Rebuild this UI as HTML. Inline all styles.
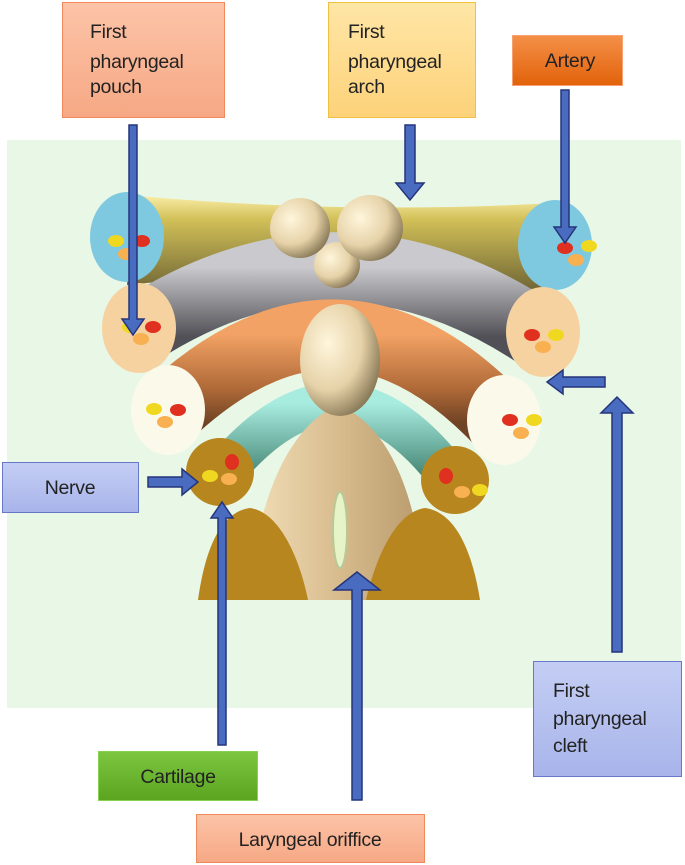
<!DOCTYPE html>
<html><head><meta charset="utf-8"><style>
html,body{margin:0;padding:0;background:#fff;}
svg{display:block;}
text{font-family:"Liberation Sans",Arial,sans-serif;font-size:19.5px;letter-spacing:-0.3px;fill:#222;}
</style></head><body>
<svg width="685" height="865" viewBox="0 0 685 865" xmlns="http://www.w3.org/2000/svg">
<defs>
<linearGradient id="gY" x1="0" y1="0" x2="0" y2="1"><stop offset="0" stop-color="#fbeea8"/><stop offset="0.25" stop-color="#d2c058"/><stop offset="1" stop-color="#6e6434"/></linearGradient>
<linearGradient id="gG" x1="0" y1="0" x2="0" y2="1"><stop offset="0" stop-color="#cacace"/><stop offset="1" stop-color="#505056"/></linearGradient>
<linearGradient id="gO" x1="0" y1="0" x2="0" y2="1"><stop offset="0" stop-color="#f2a264"/><stop offset="0.6" stop-color="#b06a38"/><stop offset="1" stop-color="#6e4224"/></linearGradient>
<linearGradient id="gT" x1="0" y1="0" x2="0" y2="1"><stop offset="0" stop-color="#a8ece0"/><stop offset="1" stop-color="#40806e"/></linearGradient>
<radialGradient id="gS" cx="0.35" cy="0.35" r="0.7"><stop offset="0" stop-color="#fff6dc"/><stop offset="0.6" stop-color="#e6d2a8"/><stop offset="1" stop-color="#8a7a58"/></radialGradient>
<linearGradient id="gB" x1="0" y1="0" x2="1" y2="0"><stop offset="0" stop-color="#f2deb8"/><stop offset="0.5" stop-color="#d8bc8e"/><stop offset="1" stop-color="#b89a6c"/></linearGradient>
<linearGradient id="bPouch" x1="0" y1="0" x2="0" y2="1"><stop offset="0" stop-color="#fcc4a8"/><stop offset="1" stop-color="#f6a884"/></linearGradient>
<linearGradient id="bArch" x1="0" y1="0" x2="0" y2="1"><stop offset="0" stop-color="#fee6a6"/><stop offset="1" stop-color="#fdd27a"/></linearGradient>
<linearGradient id="bArt" x1="0" y1="0" x2="0" y2="1"><stop offset="0" stop-color="#f49048"/><stop offset="1" stop-color="#e2620a"/></linearGradient>
<linearGradient id="bNer" x1="0" y1="0" x2="0" y2="1"><stop offset="0" stop-color="#c4cef4"/><stop offset="1" stop-color="#a8b4ea"/></linearGradient>
<linearGradient id="bCar" x1="0" y1="0" x2="0" y2="1"><stop offset="0" stop-color="#7cc640"/><stop offset="1" stop-color="#5aa420"/></linearGradient>
</defs>
<rect x="7" y="140" width="674" height="568" fill="#e8f7e6"/>
<path d="M127,195 Q340,215 555,203 L555,292 Q340,262 127,285 Z" fill="url(#gY)"/>
<path d="M137,332 Q340,200 542,337" fill="none" stroke="url(#gG)" stroke-width="70"/>
<path d="M167,414 Q340,250 503,424" fill="none" stroke="url(#gO)" stroke-width="70"/>
<path d="M222,474 Q340,330 452,480" fill="none" stroke="url(#gT)" stroke-width="42"/>
<path d="M250,600 C255,500 290,425 338,405 C390,425 420,500 425,600 Z" fill="url(#gB)"/>
<ellipse cx="340" cy="530" rx="7" ry="38" fill="#e6f4c8" stroke="#b8c898" stroke-width="2"/>
<path d="M198,600 C205,550 220,512 250,508 C280,512 300,560 308,600 Z" fill="#b8861e"/>
<path d="M366,600 C375,560 395,512 425,508 C455,512 472,550 480,600 Z" fill="#b8861e"/>
<circle cx="220" cy="472" r="34" fill="#b8861e"/>
<circle cx="455" cy="480" r="34" fill="#b8861e"/>
<ellipse cx="127" cy="237" rx="37" ry="45" fill="#7ec8e0"/>
<ellipse cx="555" cy="245" rx="37" ry="45" fill="#7ec8e0"/>
<ellipse cx="139" cy="328" rx="37" ry="45" fill="#f6d2a0"/>
<ellipse cx="543" cy="332" rx="37" ry="45" fill="#f6d2a0"/>
<ellipse cx="168" cy="410" rx="37" ry="45" fill="#fbfaea"/>
<ellipse cx="504" cy="420" rx="37" ry="45" fill="#fbfaea"/>
<circle cx="337" cy="265" r="23" fill="url(#gS)"/>
<circle cx="300" cy="228" r="30" fill="url(#gS)"/>
<circle cx="370" cy="228" r="33" fill="url(#gS)"/>
<ellipse cx="340" cy="360" rx="40" ry="56" fill="url(#gS)"/>
<g>
<ellipse cx="116" cy="241" rx="8" ry="6" fill="#f0d820"/><ellipse cx="142" cy="241" rx="8" ry="6" fill="#e03020"/><ellipse cx="126" cy="254" rx="8" ry="6" fill="#f8b050"/>
<ellipse cx="565" cy="248" rx="8" ry="6" fill="#e03020"/><ellipse cx="589" cy="246" rx="8" ry="6" fill="#f0d820"/><ellipse cx="576" cy="260" rx="8" ry="6" fill="#f8b050"/>
<ellipse cx="130" cy="327" rx="8" ry="6" fill="#f0d820"/><ellipse cx="153" cy="327" rx="8" ry="6" fill="#e03020"/><ellipse cx="141" cy="339" rx="8" ry="6" fill="#f8b050"/>
<ellipse cx="532" cy="335" rx="8" ry="6" fill="#e03020"/><ellipse cx="556" cy="335" rx="8" ry="6" fill="#f0d820"/><ellipse cx="543" cy="347" rx="8" ry="6" fill="#f8b050"/>
<ellipse cx="154" cy="409" rx="8" ry="6" fill="#f0d820"/><ellipse cx="178" cy="410" rx="8" ry="6" fill="#e03020"/><ellipse cx="165" cy="422" rx="8" ry="6" fill="#f8b050"/>
<ellipse cx="510" cy="420" rx="8" ry="6" fill="#e03020"/><ellipse cx="534" cy="420" rx="8" ry="6" fill="#f0d820"/><ellipse cx="521" cy="433" rx="8" ry="6" fill="#f8b050"/>
<ellipse cx="232" cy="462" rx="7" ry="8" fill="#e03020"/><ellipse cx="210" cy="476" rx="8" ry="6" fill="#f0d820"/><ellipse cx="229" cy="479" rx="8" ry="6" fill="#f8b050"/>
<ellipse cx="446" cy="476" rx="7" ry="8" fill="#e03020"/><ellipse cx="462" cy="492" rx="8" ry="6" fill="#f8b050"/><ellipse cx="480" cy="490" rx="8" ry="6" fill="#f0d820"/>
</g>
<g fill="#4a6cc0" stroke="#25357a" stroke-width="1.5">
<polygon points="129,125 137,125 137,319 144,319 133,335 122,319 129,319"/>
<polygon points="405,125 415,125 415,183 424,183 410,200 396,183 405,183"/>
<polygon points="561,90 569,90 569,227 576,227 565,243 554,227 561,227"/>
<polygon points="605,377 605,387 563,387 563,394 547,382 563,370 563,377"/>
<polygon points="612,652 622,652 622,413 633,413 617,397 601,413 612,413"/>
<polygon points="148,477 148,487 182,487 182,495 198,482 182,469 182,477"/>
<polygon points="218,745 226,745 226,518 233,518 222,502 211,518 218,518"/>
<polygon points="352,800 362,800 362,590 380,590 357,572 334,590 352,590"/>
</g>
<rect x="62.5" y="2.5" width="162" height="115" fill="url(#bPouch)" stroke="#f08a5c"/>
<text x="90" y="38">First</text><text x="90" y="68">pharyngeal</text><text x="90" y="93">pouch</text>
<rect x="328.5" y="2.5" width="147" height="115" fill="url(#bArch)" stroke="#f0c040"/>
<text x="348" y="38">First</text><text x="348" y="68">pharyngeal</text><text x="348" y="93">arch</text>
<rect x="512.5" y="35.5" width="110" height="50" fill="url(#bArt)" stroke="#f7a070"/>
<text x="570" y="67" text-anchor="middle">Artery</text>
<rect x="2.5" y="462.5" width="136" height="50" fill="url(#bNer)" stroke="#6878c8"/>
<text x="70" y="494" text-anchor="middle">Nerve</text>
<rect x="98.5" y="751.5" width="159" height="49" fill="url(#bCar)" stroke="#8ad050"/>
<text x="178" y="783" text-anchor="middle">Cartilage</text>
<rect x="196.5" y="814.5" width="228" height="48" fill="url(#bPouch)" stroke="#f08a5c"/>
<text x="310" y="846" text-anchor="middle">Laryngeal oriffice</text>
<rect x="533.5" y="661.5" width="148" height="115" fill="url(#bNer)" stroke="#6878c8"/>
<text x="553" y="697">First</text><text x="553" y="725">pharyngeal</text><text x="553" y="752">cleft</text>
</svg>
</body></html>
